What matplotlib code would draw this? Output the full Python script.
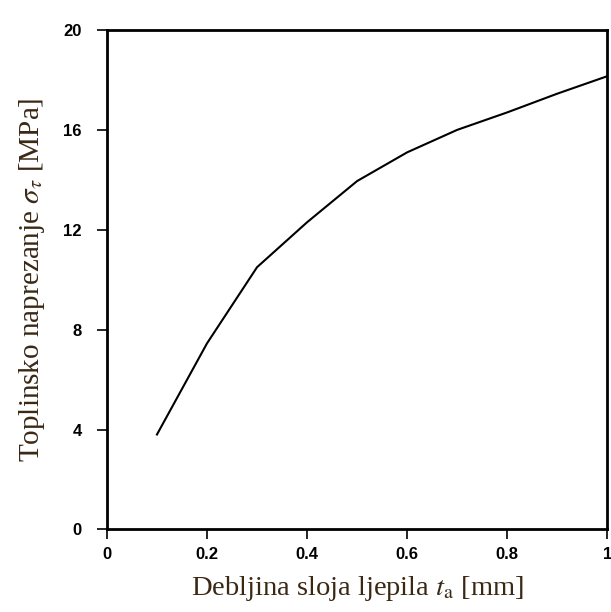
import numpy as np
import matplotlib.pyplot as plt

# debljina sloja ljepila [mm] i toplinsko naprezanje [MPa]
t_a = [0.1, 0.2, 0.3, 0.4, 0.5, 0.6, 0.7, 0.8, 0.9, 1.0]
sigma = [3.8, 7.45, 10.5, 12.3, 13.95, 15.1, 16.0, 16.7, 17.45, 18.15]

xticks = [0, 0.2, 0.4, 0.6, 0.8, 1]
xticklabels = ["0", "0.2", "0.4", "0.6", "0.8", "1"]
yticks = [0, 4, 8, 12, 16, 20]

plt.rcParams["mathtext.fontset"] = "stix"

fig = plt.figure(figsize=(6.11, 6.12), dpi=100)
ax = fig.add_axes([0.175, 0.135, 0.819, 0.816])

ax.plot(t_a, sigma, color="black", lw=1.5)

ax.set_xlim(0, 1)
ax.set_ylim(0, 20)
ax.set_xticks(xticks)
ax.set_xticklabels(xticklabels)
ax.set_yticks(yticks)

for s in ax.spines.values():
    s.set_linewidth(2.0)

ax.tick_params(direction="out", length=7, width=1.2)
ax.tick_params(axis="y", pad=11)
ax.tick_params(axis="x", pad=6)
for lab in ax.get_xticklabels() + ax.get_yticklabels():
    lab.set_fontfamily("Liberation Sans")
    lab.set_fontweight("bold")
    lab.set_fontsize(12)

lab_color = "#3a2814"
ax.set_xlabel(r"Debljina sloja ljepila $t_\mathrm{a}$ [mm]", fontsize=20.5,
              family="Liberation Serif", color=lab_color, labelpad=8)
ax.set_ylabel(r"Toplinsko naprezanje $\sigma_\tau$ [MPa]", fontsize=21,
              family="Liberation Serif", color=lab_color, labelpad=12)

fig.savefig("out.png", dpi=100)
